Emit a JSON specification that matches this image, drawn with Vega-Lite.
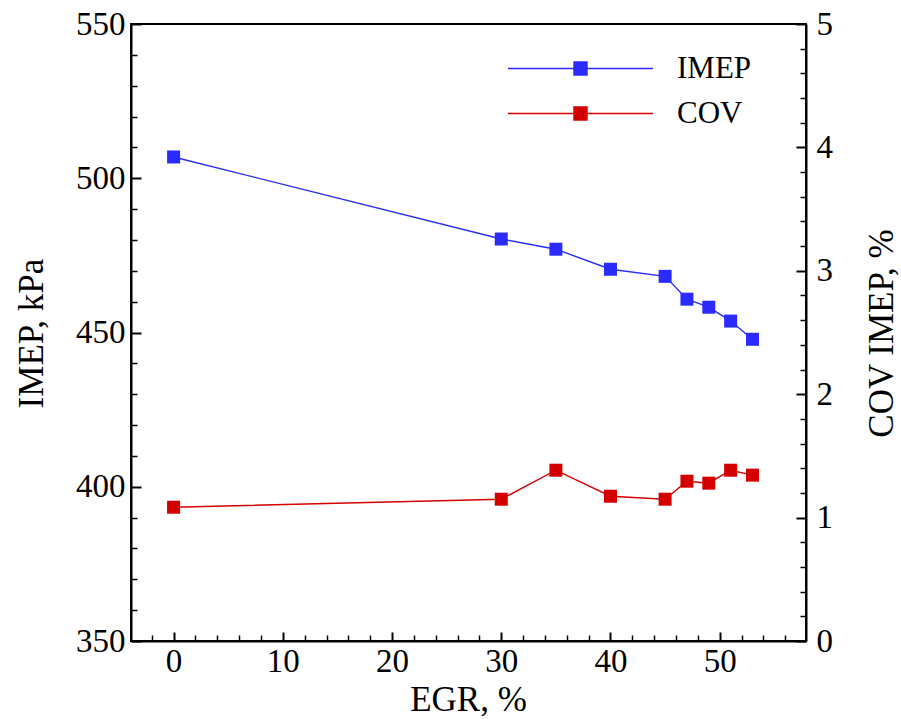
{
  "$schema": "https://vega.github.io/schema/vega-lite/v6.json",
  "width": 675,
  "height": 617,
  "autosize": "none",
  "padding": {"left": 131, "top": 24, "right": 95, "bottom": 78},
  "background": "white",
  "view": {"stroke": "black", "strokeWidth": 2},
  "config": {
    "font": "Liberation Serif",
    "axis": {
      "labelFont": "Liberation Serif",
      "titleFont": "Liberation Serif",
      "labelFontSize": 33,
      "titleFontSize": 35,
      "titleFontWeight": "normal",
      "labelColor": "black",
      "titleColor": "black",
      "domainColor": "black",
      "tickColor": "black",
      "domainWidth": 2,
      "grid": false
    },
    "legend": {
      "labelFont": "Liberation Serif"
    }
  },
  "data": {
    "values": [
      {"egr": 0, "imep": 506.9, "cov": 1.084},
      {"egr": 30, "imep": 480.3, "cov": 1.149},
      {"egr": 35, "imep": 477.0, "cov": 1.384},
      {"egr": 40, "imep": 470.5, "cov": 1.173},
      {"egr": 45, "imep": 468.2, "cov": 1.149},
      {"egr": 47, "imep": 460.8, "cov": 1.295},
      {"egr": 49, "imep": 458.2, "cov": 1.279},
      {"egr": 51, "imep": 453.7, "cov": 1.384},
      {"egr": 53, "imep": 447.8, "cov": 1.344}
    ]
  },
  "layer": [
    {
      "mark": {"type": "line", "strokeWidth": 1.4, "point": {"shape": "square", "size": 169, "filled": true, "opacity": 1}},
      "encoding": {
        "x": {
          "field": "egr", "type": "quantitative",
          "scale": {"domain": [-3.9, 57.9], "nice": false, "zero": false},
          "axis": {"orient": "bottom", "values": [0, 10, 20, 30, 40, 50], "tickSize": -9, "tickWidth": 2, "labelPadding": 13, "title": "EGR, %", "titleX": 337, "titleY": 69, "titleBaseline": "alphabetic", "titleAlign": "center"}
        },
        "y": {
          "field": "imep", "type": "quantitative",
          "scale": {"domain": [350, 550], "nice": false, "zero": false},
          "axis": {"orient": "left", "values": [350, 400, 450, 500, 550], "tickSize": -10, "tickWidth": 2, "labelPadding": 16, "title": "IMEP, kPa", "titleAngle": -90, "titleX": -89, "titleY": 309, "titleBaseline": "alphabetic", "titleAlign": "center"}
        },
        "color": {
          "datum": "IMEP",
          "type": "nominal",
          "scale": {"domain": ["IMEP", "COV"], "range": ["#2b2bff", "#d40000"]},
          "legend": {
            "title": null,
            "orient": "none",
            "legendX": 376,
            "legendY": 22,
            "padding": 0,
            "rowPadding": 0,
            "symbolType": "M-1,0H1M-0.09,-0.09H0.09V0.09H-0.09Z",
            "symbolSize": 21025,
            "symbolStrokeWidth": 1.4,
            "clipHeight": 45,
            "labelFontSize": 31,
            "labelOffset": 23,
            "labelColor": "black",
            "encode": {
              "symbols": {"update": {"fill": {"scale": "color", "field": "value"}, "stroke": {"scale": "color", "field": "value"}, "opacity": {"value": 1}}}
            }
          }
        }
      }
    },
    {
      "mark": {"type": "line", "strokeWidth": 1.4, "point": {"shape": "square", "size": 169, "filled": true, "opacity": 1}},
      "encoding": {
        "x": {
          "field": "egr", "type": "quantitative",
          "scale": {"domain": [-3.9, 57.9], "nice": false, "zero": false},
          "axis": {"orient": "bottom", "values": [-2, 2, 4, 6, 8, 12, 14, 16, 18, 22, 24, 26, 28, 32, 34, 36, 38, 42, 44, 46, 48, 52, 54, 56], "tickSize": -6, "tickWidth": 1.5, "labels": false, "domain": false, "title": null}
        },
        "y": {
          "field": "cov", "type": "quantitative",
          "scale": {"domain": [0, 5], "nice": false, "zero": false},
          "axis": {"orient": "right", "values": [0, 1, 2, 3, 4, 5], "tickSize": -10, "tickWidth": 2, "labelPadding": 20, "title": "COV IMEP, %", "titleAngle": -90, "titleX": 86, "titleY": 309, "titleBaseline": "alphabetic", "titleAlign": "center"}
        },
        "color": {"datum": "COV", "type": "nominal"}
      }
    },
    {
      "mark": {"type": "line", "opacity": 0},
      "encoding": {
        "x": {"field": "egr", "type": "quantitative", "scale": {"domain": [-3.9, 57.9], "nice": false, "zero": false}, "axis": null},
        "y": {
          "field": "imep", "type": "quantitative",
          "scale": {"domain": [350, 550], "nice": false, "zero": false},
          "axis": {"orient": "left", "values": [360, 370, 380, 390, 410, 420, 430, 440, 460, 470, 480, 490, 510, 520, 530, 540], "tickSize": -6, "tickWidth": 1.5, "labels": false, "domain": false, "title": null}
        }
      }
    },
    {
      "mark": {"type": "line", "opacity": 0},
      "encoding": {
        "x": {"field": "egr", "type": "quantitative", "scale": {"domain": [-3.9, 57.9], "nice": false, "zero": false}, "axis": null},
        "y": {
          "field": "cov", "type": "quantitative",
          "scale": {"domain": [0, 5], "nice": false, "zero": false},
          "axis": {"orient": "right", "values": [0.2, 0.4, 0.6, 0.8, 1.2, 1.4, 1.6, 1.8, 2.2, 2.4, 2.6, 2.8, 3.2, 3.4, 3.6, 3.8, 4.2, 4.4, 4.6, 4.8], "tickSize": -6, "tickWidth": 1.5, "labels": false, "domain": false, "title": null}
        }
      }
    }
  ],
  "resolve": {"scale": {"y": "independent"}, "axis": {"x": "independent", "y": "independent"}}
}
